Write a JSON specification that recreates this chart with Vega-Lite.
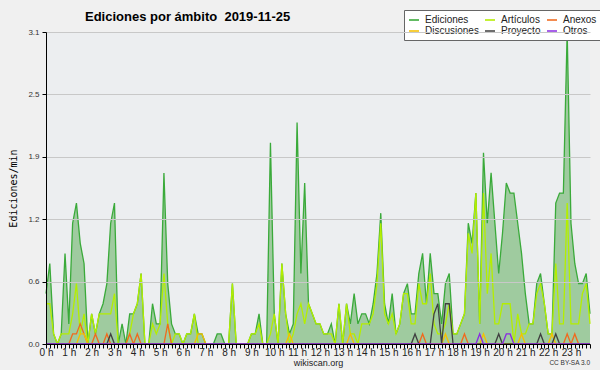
{
  "$schema": "https://vega.github.io/schema/vega-lite/v6.json",
  "width": 544,
  "height": 312,
  "autosize": {"type": "none"},
  "padding": {"left": 46, "top": 32, "right": 10, "bottom": 26},
  "background": "#f0f0f0",
  "config": {"view": {"stroke": null, "fill": "#eceef0"}, "font": "Liberation Sans"},
  "title": {"text": "Ediciones por ámbito \u00a02019-11-25", "anchor": "start", "frame": "group", "dx": 39, "dy": 20, "baseline": "alphabetic", "font": "Liberation Sans", "fontSize": 13, "fontWeight": "bold", "color": "#000000", "offset": -4},
  "data": {"values": [
    {"t":0,"ed":0.5,"ar":0.4,"an":0,"di":0,"pr":0,"ot":0},
    {"t":10,"ed":0.8,"ar":0.4,"an":0,"di":0,"pr":0,"ot":0},
    {"t":20,"ed":0.1,"ar":0.1,"an":0,"di":0,"pr":0,"ot":0},
    {"t":30,"ed":0,"ar":0,"an":0,"di":0,"pr":0,"ot":0},
    {"t":40,"ed":0.1,"ar":0.1,"an":0,"di":0,"pr":0,"ot":0},
    {"t":50,"ed":0.9,"ar":0.1,"an":0,"di":0,"pr":0,"ot":0},
    {"t":60,"ed":0.2,"ar":0.1,"an":0,"di":0,"pr":0,"ot":0},
    {"t":70,"ed":1.2,"ar":0.3,"an":0.1,"di":0,"pr":0,"ot":0},
    {"t":80,"ed":1.4,"ar":0.6,"an":0.1,"di":0,"pr":0,"ot":0},
    {"t":90,"ed":1.0,"ar":0.1,"an":0.2,"di":0.1,"pr":0,"ot":0},
    {"t":100,"ed":0.8,"ar":0.3,"an":0.1,"di":0.1,"pr":0,"ot":0},
    {"t":110,"ed":0,"ar":0,"an":0,"di":0,"pr":0,"ot":0},
    {"t":120,"ed":0.3,"ar":0.3,"an":0,"di":0,"pr":0,"ot":0},
    {"t":130,"ed":0.1,"ar":0.1,"an":0.1,"di":0,"pr":0,"ot":0},
    {"t":140,"ed":0.3,"ar":0.3,"an":0,"di":0,"pr":0,"ot":0},
    {"t":150,"ed":0.4,"ar":0.3,"an":0,"di":0,"pr":0,"ot":0},
    {"t":160,"ed":0.6,"ar":0.3,"an":0.1,"di":0,"pr":0,"ot":0},
    {"t":170,"ed":1.2,"ar":0.3,"an":0,"di":0,"pr":0.1,"ot":0},
    {"t":180,"ed":1.4,"ar":0.5,"an":0,"di":0,"pr":0,"ot":0},
    {"t":190,"ed":0,"ar":0,"an":0,"di":0,"pr":0,"ot":0},
    {"t":200,"ed":0.2,"ar":0,"an":0,"di":0,"pr":0,"ot":0},
    {"t":210,"ed":0,"ar":0,"an":0,"di":0,"pr":0,"ot":0},
    {"t":220,"ed":0.3,"ar":0.1,"an":0.1,"di":0,"pr":0,"ot":0},
    {"t":230,"ed":0.3,"ar":0.3,"an":0,"di":0,"pr":0,"ot":0},
    {"t":240,"ed":0.4,"ar":0.4,"an":0.1,"di":0,"pr":0,"ot":0},
    {"t":250,"ed":0.7,"ar":0.7,"an":0,"di":0,"pr":0,"ot":0},
    {"t":260,"ed":0,"ar":0,"an":0,"di":0,"pr":0,"ot":0},
    {"t":270,"ed":0,"ar":0,"an":0,"di":0,"pr":0,"ot":0},
    {"t":280,"ed":0.4,"ar":0.2,"an":0,"di":0,"pr":0,"ot":0},
    {"t":290,"ed":0.2,"ar":0.1,"an":0,"di":0,"pr":0,"ot":0},
    {"t":300,"ed":0.2,"ar":0.2,"an":0,"di":0,"pr":0,"ot":0},
    {"t":310,"ed":1.7,"ar":0.7,"an":0,"di":0,"pr":0,"ot":0},
    {"t":320,"ed":0.6,"ar":0.2,"an":0.2,"di":0,"pr":0,"ot":0},
    {"t":330,"ed":0.2,"ar":0,"an":0,"di":0,"pr":0,"ot":0},
    {"t":340,"ed":0.1,"ar":0.1,"an":0,"di":0,"pr":0,"ot":0},
    {"t":350,"ed":0.1,"ar":0.1,"an":0,"di":0,"pr":0,"ot":0},
    {"t":360,"ed":0,"ar":0,"an":0,"di":0,"pr":0,"ot":0},
    {"t":370,"ed":0.1,"ar":0.1,"an":0,"di":0,"pr":0,"ot":0},
    {"t":380,"ed":0.1,"ar":0.1,"an":0,"di":0,"pr":0,"ot":0},
    {"t":390,"ed":0.3,"ar":0.3,"an":0,"di":0,"pr":0,"ot":0},
    {"t":400,"ed":0.1,"ar":0,"an":0,"di":0.1,"pr":0,"ot":0},
    {"t":410,"ed":0.1,"ar":0,"an":0,"di":0.1,"pr":0,"ot":0},
    {"t":420,"ed":0,"ar":0,"an":0,"di":0,"pr":0,"ot":0},
    {"t":430,"ed":0,"ar":0,"an":0,"di":0,"pr":0,"ot":0},
    {"t":440,"ed":0,"ar":0,"an":0,"di":0,"pr":0,"ot":0},
    {"t":450,"ed":0.1,"ar":0,"an":0,"di":0,"pr":0,"ot":0},
    {"t":460,"ed":0.1,"ar":0,"an":0,"di":0,"pr":0,"ot":0},
    {"t":470,"ed":0,"ar":0,"an":0,"di":0,"pr":0,"ot":0},
    {"t":480,"ed":0,"ar":0,"an":0,"di":0,"pr":0,"ot":0},
    {"t":490,"ed":0.6,"ar":0.6,"an":0,"di":0,"pr":0,"ot":0},
    {"t":500,"ed":0,"ar":0,"an":0,"di":0,"pr":0,"ot":0},
    {"t":510,"ed":0,"ar":0,"an":0,"di":0,"pr":0,"ot":0},
    {"t":520,"ed":0,"ar":0,"an":0,"di":0,"pr":0,"ot":0},
    {"t":530,"ed":0,"ar":0,"an":0,"di":0,"pr":0,"ot":0},
    {"t":540,"ed":0.1,"ar":0.1,"an":0,"di":0,"pr":0,"ot":0},
    {"t":550,"ed":0.1,"ar":0.1,"an":0,"di":0,"pr":0,"ot":0},
    {"t":560,"ed":0.3,"ar":0.2,"an":0,"di":0,"pr":0,"ot":0},
    {"t":570,"ed":0,"ar":0,"an":0,"di":0,"pr":0,"ot":0},
    {"t":580,"ed":0,"ar":0,"an":0,"di":0,"pr":0,"ot":0},
    {"t":590,"ed":2.0,"ar":0.1,"an":0,"di":0,"pr":0,"ot":0},
    {"t":600,"ed":0.3,"ar":0.3,"an":0,"di":0,"pr":0,"ot":0},
    {"t":610,"ed":0,"ar":0,"an":0,"di":0,"pr":0,"ot":0},
    {"t":620,"ed":0.8,"ar":0.8,"an":0,"di":0,"pr":0,"ot":0},
    {"t":630,"ed":0.3,"ar":0.3,"an":0,"di":0,"pr":0,"ot":0},
    {"t":640,"ed":0.1,"ar":0,"an":0,"di":0.1,"pr":0,"ot":0},
    {"t":650,"ed":0.2,"ar":0.1,"an":0,"di":0,"pr":0,"ot":0},
    {"t":660,"ed":2.2,"ar":0.3,"an":0,"di":0,"pr":0,"ot":0},
    {"t":670,"ed":0.7,"ar":0.4,"an":0,"di":0,"pr":0,"ot":0},
    {"t":680,"ed":1.6,"ar":0.2,"an":0,"di":0,"pr":0,"ot":0},
    {"t":690,"ed":0.4,"ar":0.4,"an":0,"di":0,"pr":0,"ot":0},
    {"t":700,"ed":0.3,"ar":0.3,"an":0,"di":0,"pr":0,"ot":0},
    {"t":710,"ed":0.2,"ar":0.2,"an":0,"di":0,"pr":0,"ot":0},
    {"t":720,"ed":0.2,"ar":0.2,"an":0,"di":0,"pr":0,"ot":0},
    {"t":730,"ed":0.1,"ar":0.1,"an":0,"di":0,"pr":0,"ot":0},
    {"t":740,"ed":0.1,"ar":0.1,"an":0,"di":0,"pr":0,"ot":0},
    {"t":750,"ed":0.2,"ar":0.1,"an":0,"di":0,"pr":0,"ot":0},
    {"t":760,"ed":0,"ar":0,"an":0,"di":0,"pr":0,"ot":0},
    {"t":770,"ed":0.4,"ar":0.4,"an":0,"di":0,"pr":0,"ot":0},
    {"t":780,"ed":0,"ar":0,"an":0,"di":0,"pr":0,"ot":0},
    {"t":790,"ed":0.4,"ar":0.4,"an":0,"di":0,"pr":0,"ot":0},
    {"t":800,"ed":0.2,"ar":0.1,"an":0,"di":0.1,"pr":0,"ot":0},
    {"t":810,"ed":0.5,"ar":0.1,"an":0,"di":0,"pr":0,"ot":0},
    {"t":820,"ed":0.2,"ar":0,"an":0,"di":0,"pr":0,"ot":0},
    {"t":830,"ed":0.3,"ar":0.2,"an":0,"di":0,"pr":0,"ot":0},
    {"t":840,"ed":0.3,"ar":0.2,"an":0,"di":0,"pr":0,"ot":0},
    {"t":850,"ed":0.2,"ar":0.2,"an":0,"di":0,"pr":0,"ot":0},
    {"t":860,"ed":0.4,"ar":0.3,"an":0,"di":0,"pr":0,"ot":0},
    {"t":870,"ed":0.7,"ar":0.6,"an":0,"di":0,"pr":0,"ot":0},
    {"t":880,"ed":1.3,"ar":1.2,"an":0,"di":0,"pr":0,"ot":0},
    {"t":890,"ed":0.4,"ar":0.3,"an":0,"di":0,"pr":0,"ot":0},
    {"t":900,"ed":0.2,"ar":0.2,"an":0,"di":0,"pr":0,"ot":0},
    {"t":910,"ed":0.5,"ar":0.3,"an":0,"di":0,"pr":0,"ot":0},
    {"t":920,"ed":0.1,"ar":0.1,"an":0,"di":0,"pr":0,"ot":0},
    {"t":930,"ed":0.2,"ar":0.2,"an":0,"di":0,"pr":0,"ot":0},
    {"t":940,"ed":0.5,"ar":0.5,"an":0,"di":0,"pr":0,"ot":0},
    {"t":950,"ed":0.6,"ar":0.5,"an":0,"di":0,"pr":0,"ot":0},
    {"t":960,"ed":0.3,"ar":0.2,"an":0,"di":0,"pr":0,"ot":0},
    {"t":970,"ed":0.3,"ar":0.2,"an":0,"di":0,"pr":0.1,"ot":0},
    {"t":980,"ed":0.7,"ar":0.6,"an":0,"di":0,"pr":0,"ot":0},
    {"t":990,"ed":0.9,"ar":0.4,"an":0.1,"di":0,"pr":0,"ot":0},
    {"t":1000,"ed":0.4,"ar":0.4,"an":0,"di":0,"pr":0,"ot":0},
    {"t":1010,"ed":0.9,"ar":0.7,"an":0,"di":0,"pr":0,"ot":0},
    {"t":1020,"ed":0.5,"ar":0.2,"an":0,"di":0,"pr":0.3,"ot":0},
    {"t":1030,"ed":0.5,"ar":0.1,"an":0,"di":0,"pr":0.4,"ot":0},
    {"t":1040,"ed":0.2,"ar":0.1,"an":0,"di":0,"pr":0,"ot":0},
    {"t":1050,"ed":0.6,"ar":0.2,"an":0,"di":0.1,"pr":0.4,"ot":0},
    {"t":1060,"ed":0.7,"ar":0.4,"an":0,"di":0,"pr":0.4,"ot":0},
    {"t":1070,"ed":0.1,"ar":0.1,"an":0,"di":0,"pr":0,"ot":0},
    {"t":1080,"ed":0.1,"ar":0.1,"an":0,"di":0,"pr":0,"ot":0},
    {"t":1090,"ed":0.2,"ar":0.2,"an":0,"di":0,"pr":0,"ot":0},
    {"t":1100,"ed":0.3,"ar":0.3,"an":0.1,"di":0,"pr":0,"ot":0},
    {"t":1110,"ed":1.2,"ar":1.1,"an":0,"di":0,"pr":0,"ot":0},
    {"t":1120,"ed":1.0,"ar":0.9,"an":0,"di":0,"pr":0,"ot":0},
    {"t":1130,"ed":1.5,"ar":1.5,"an":0,"di":0,"pr":0,"ot":0},
    {"t":1140,"ed":0.2,"ar":0.2,"an":0,"di":0,"pr":0,"ot":0.1},
    {"t":1150,"ed":1.9,"ar":1.5,"an":0,"di":0.1,"pr":0,"ot":0},
    {"t":1160,"ed":1.2,"ar":0.5,"an":0,"di":0,"pr":0,"ot":0},
    {"t":1170,"ed":1.7,"ar":0.9,"an":0,"di":0,"pr":0,"ot":0},
    {"t":1180,"ed":1.2,"ar":0.2,"an":0,"di":0,"pr":0,"ot":0},
    {"t":1190,"ed":0.7,"ar":0.2,"an":0,"di":0,"pr":0.1,"ot":0},
    {"t":1200,"ed":1.1,"ar":0.4,"an":0,"di":0,"pr":0,"ot":0},
    {"t":1210,"ed":1.6,"ar":0.4,"an":0,"di":0,"pr":0,"ot":0.1},
    {"t":1220,"ed":1.5,"ar":0.4,"an":0,"di":0,"pr":0,"ot":0.1},
    {"t":1230,"ed":1.5,"ar":0,"an":0,"di":0,"pr":0,"ot":0},
    {"t":1240,"ed":1.2,"ar":0.3,"an":0,"di":0,"pr":0,"ot":0},
    {"t":1250,"ed":0.9,"ar":0.1,"an":0,"di":0.1,"pr":0,"ot":0},
    {"t":1260,"ed":0.5,"ar":0.1,"an":0,"di":0,"pr":0,"ot":0},
    {"t":1270,"ed":0.2,"ar":0.2,"an":0,"di":0,"pr":0,"ot":0},
    {"t":1280,"ed":0.2,"ar":0.2,"an":0,"di":0,"pr":0,"ot":0},
    {"t":1290,"ed":0.6,"ar":0.5,"an":0,"di":0,"pr":0,"ot":0},
    {"t":1300,"ed":0.7,"ar":0.6,"an":0,"di":0,"pr":0.1,"ot":0},
    {"t":1310,"ed":0.4,"ar":0.4,"an":0,"di":0,"pr":0,"ot":0},
    {"t":1320,"ed":0.1,"ar":0.1,"an":0,"di":0,"pr":0,"ot":0},
    {"t":1330,"ed":0.1,"ar":0.1,"an":0,"di":0.1,"pr":0,"ot":0},
    {"t":1340,"ed":1.4,"ar":0.8,"an":0,"di":0,"pr":0.1,"ot":0},
    {"t":1350,"ed":1.5,"ar":0.2,"an":0,"di":0,"pr":0,"ot":0},
    {"t":1360,"ed":1.5,"ar":0.2,"an":0,"di":0,"pr":0,"ot":0},
    {"t":1370,"ed":3.1,"ar":1.4,"an":0.1,"di":0,"pr":0,"ot":0},
    {"t":1380,"ed":1.2,"ar":0.2,"an":0,"di":0,"pr":0,"ot":0},
    {"t":1390,"ed":0.8,"ar":0.2,"an":0.1,"di":0,"pr":0,"ot":0},
    {"t":1400,"ed":0.6,"ar":0.2,"an":0,"di":0,"pr":0,"ot":0},
    {"t":1410,"ed":0.6,"ar":0.5,"an":0,"di":0,"pr":0,"ot":0},
    {"t":1420,"ed":0.7,"ar":0.6,"an":0,"di":0,"pr":0,"ot":0},
    {"t":1430,"ed":0.3,"ar":0.2,"an":0,"di":0,"pr":0,"ot":0}
  ]},
  "encoding": {
    "x": {"field": "t", "type": "quantitative", "scale": {"domain": [0, 1430], "nice": false, "zero": false},
      "axis": {"values": [0,10,20,30,40,50,60,70,80,90,100,110,120,130,140,150,160,170,180,190,200,210,220,230,240,250,260,270,280,290,300,310,320,330,340,350,360,370,380,390,400,410,420,430,440,450,460,470,480,490,500,510,520,530,540,550,560,570,580,590,600,610,620,630,640,650,660,670,680,690,700,710,720,730,740,750,760,770,780,790,800,810,820,830,840,850,860,870,880,890,900,910,920,930,940,950,960,970,980,990,1000,1010,1020,1030,1040,1050,1060,1070,1080,1090,1100,1110,1120,1130,1140,1150,1160,1170,1180,1190,1200,1210,1220,1230,1240,1250,1260,1270,1280,1290,1300,1310,1320,1330,1340,1350,1360,1370,1380,1390,1400,1410,1420,1430],
        "labelExpr": "datum.value % 60 === 0 ? (datum.value / 60) + ' h' : ''",
        "labelOverlap": false, "labelFlush": false, "labelBound": false,
        "grid": false, "tickSize": 4, "tickColor": "#000000", "domainColor": "#000000",
        "labelFont": "Liberation Sans", "labelFontSize": 10, "labelColor": "#222222", "labelPadding": -1,
        "title": "wikiscan.org", "titleFont": "Liberation Sans", "titleFontSize": 9, "titleFontWeight": "normal", "titleColor": "#222222", "titlePadding": 1,
        "zindex": 1}
    }
  },
  "layer": [
    {
      "mark": {"type": "area", "color": "#9fcb9f", "opacity": 1},
      "encoding": {
        "y": {"field": "ed", "type": "quantitative", "scale": {"domain": [0, 3.1], "nice": false},
          "axis": {"values": [0,0.155,0.31,0.465,0.62,0.775,0.93,1.085,1.24,1.395,1.55,1.705,1.86,2.015,2.17,2.325,2.48,2.635,2.79,2.945,3.1],
            "labelExpr": "round(datum.value / 0.155) % 4 === 0 ? format(datum.value, '.1f') : ''",
            "gridColor": "#c8c8c8",
            "gridOpacity": {"condition": {"test": "round(datum.value / 0.155) % 4 === 0", "value": 1}, "value": 0},
            "tickSize": 4, "tickColor": "#000000", "domainColor": "#000000",
            "labelFont": "Liberation Sans", "labelFontSize": 8, "labelColor": "#333333", "labelPadding": 3,
            "title": "Ediciones/min", "titleFont": "DejaVu Sans Mono", "titleFontSize": 10, "titleFontWeight": "normal", "titleColor": "#000000",
            "titleX": -33, "titleY": 156, "titleAngle": -90, "titleAlign": "center", "titleBaseline": "middle",
            "zindex": 1}
        }
      }
    },
    {
      "transform": [{"fold": ["ed", "ar", "an", "di", "pr", "ot"], "as": ["serie", "v"]}],
      "mark": {"type": "line", "strokeWidth": 1.3},
      "encoding": {
        "y": {"field": "v", "type": "quantitative"},
        "color": {"field": "serie", "type": "nominal",
          "scale": {"domain": ["ed", "ar", "an", "di", "pr", "ot"], "range": ["#3aaa3a", "#b4ee00", "#f06a1e", "#f5c000", "#404040", "#8a2be2"]},
          "legend": {"title": null, "orient": "none", "legendX": 358, "legendY": -22, "columns": 3, "direction": "horizontal",
            "symbolType": "stroke", "symbolSize": 100, "symbolStrokeWidth": 1.5, "symbolOffset": 0,
            "labelFont": "Liberation Sans", "labelFontSize": 10, "labelColor": "#222222", "labelOffset": 5, "labelLimit": 0,
            "columnPadding": 2, "rowPadding": 0, "padding": 4, "fillColor": "#ffffff", "strokeColor": "#666666",
            "labelExpr": "datum.label === 'ed' ? 'Ediciones' : datum.label === 'ar' ? 'Artículos' : datum.label === 'an' ? 'Anexos' : datum.label === 'di' ? 'Discusiones' : datum.label === 'pr' ? 'Proyecto' : 'Otros'"}
        },
        "strokeWidth": {"field": "serie", "type": "nominal", "scale": {"domain": ["ed", "ar", "an", "di", "pr", "ot"], "range": [1.6, 1.5, 1.2, 1.2, 1.2, 1.2]}, "legend": null}
      }
    },
    {
      "data": {"values": [{"t": 1430, "v": 0, "nota": "CC BY-SA 3.0"}]},
      "mark": {"type": "text", "align": "right", "baseline": "alphabetic", "dy": 21, "font": "Liberation Sans", "fontSize": 6.5, "color": "#333333", "clip": false},
      "encoding": {
        "x": {"field": "t", "type": "quantitative"},
        "y": {"field": "v", "type": "quantitative"},
        "text": {"field": "nota", "type": "nominal"}
      }
    }
  ]
}
